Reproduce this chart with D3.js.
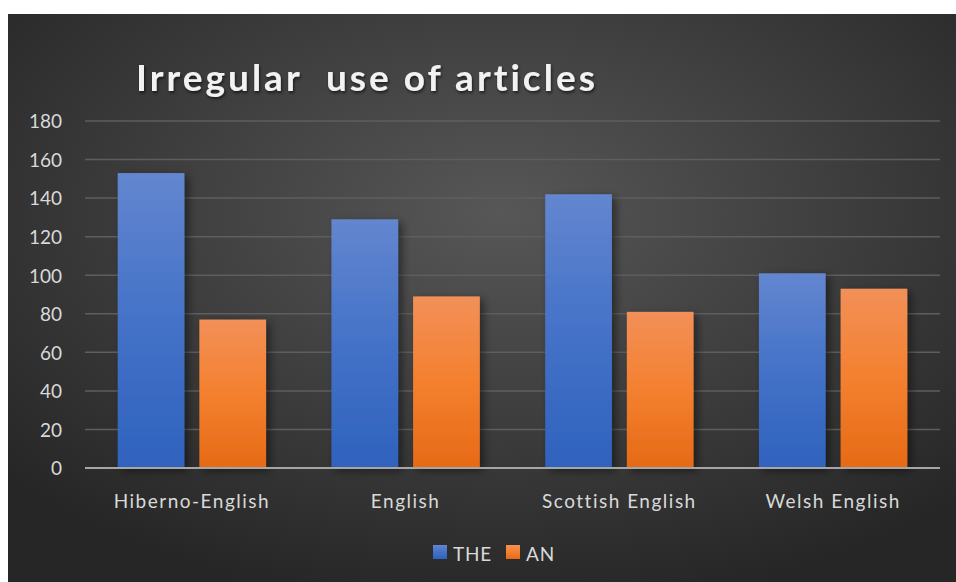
<!DOCTYPE html>
<html>
<head>
<meta charset="utf-8">
<script src="https://cdn.jsdelivr.net/npm/d3@7"></script>
<style>
  html,body{margin:0;padding:0;background:#fff;}
  svg{display:block;}
  text{font-family:Lato,"Open Sans",sans-serif;}
</style>
</head>
<body>
<svg id="chart" width="956" height="582"></svg>
<script>
/* ── data ── */
var categories=['Hiberno-English','English','Scottish English','Welsh English'];
var seriesNames=['THE','AN'];
var theValues=[153,129,142,101];
var anValues=[77,89,81,93];
var yTicks=[0,20,40,60,80,100,120,140,160,180];

var W=956, H=582;
var PX=8, PY=14;               // white border round the chart panel
var ML=85, MR=16, MT=121, MB=114;
var svg=d3.select('#chart');
var defs=svg.append('defs');

/* background radial gradient */
var bg=defs.append('radialGradient').attr('id','bgGrad')
  .attr('cx','52%').attr('cy','35%').attr('r','70%');
bg.append('stop').attr('offset','0%').attr('stop-color','#575757');
bg.append('stop').attr('offset','100%').attr('stop-color','#262626');

function barGrad(id,top,mid,bot){
  var g=defs.append('linearGradient').attr('id',id)
    .attr('x1',0).attr('x2',0).attr('y1',0).attr('y2',1);
  g.append('stop').attr('offset','0%').attr('stop-color',top);
  g.append('stop').attr('offset','50%').attr('stop-color',mid);
  g.append('stop').attr('offset','100%').attr('stop-color',bot);
}
barGrad('gTHE','#6386cf','#4472c8','#2f62bd');
barGrad('gAN','#f29058','#f4802f','#e66a16');

var sh=defs.append('filter').attr('id','shadow')
  .attr('x','-20%').attr('y','-10%').attr('width','150%').attr('height','130%');
sh.append('feDropShadow').attr('dx',4).attr('dy',3).attr('stdDeviation',4)
  .attr('flood-color','#000').attr('flood-opacity',0.45);

var tsh=defs.append('filter').attr('id','tshadow');
tsh.append('feDropShadow').attr('dx',1).attr('dy',2).attr('stdDeviation',1.5)
  .attr('flood-color','#000').attr('flood-opacity',0.6);

svg.append('rect').attr('x',PX).attr('y',PY).attr('width',W-PX).attr('height',H-PY)
  .attr('fill','url(#bgGrad)');

/* ── scales ── */
var x0=d3.scaleBand().domain(categories).range([ML,W-MR]).paddingInner(0).paddingOuter(0);
var y=d3.scaleLinear().domain([0,180]).range([H-MB,MT]);
var bw=x0.bandwidth();
var barW=bw*0.312, gapIn=bw*0.07;

/* gridlines */
svg.append('g').selectAll('line').data(yTicks.filter(function(t){return t>0;})).enter()
  .append('line').attr('x1',ML).attr('x2',W-MR)
  .attr('y1',function(d){return y(d);}).attr('y2',function(d){return y(d);})
  .attr('stroke','#5e5e5e').attr('stroke-width',1.5);

/* y axis labels */
var yAxis=d3.axisLeft(y).tickValues(yTicks).tickSize(0).tickPadding(0);
var ya=svg.append('g').attr('transform','translate(62,0)').call(yAxis);
ya.select('.domain').remove();
ya.selectAll('text').attr('fill','#d9d9d9').attr('font-size',19).attr('dy','0.36em')
  .style('font-family','Lato,"Open Sans",sans-serif');

/* bars */
var rows=categories.map(function(c,i){return {cat:c,v:[theValues[i],anValues[i]]};});
var grp=svg.append('g').selectAll('g').data(rows).enter().append('g');
var startOff=(bw-(2*barW+gapIn))/2;
grp.selectAll('rect').data(function(d){
    return d.v.map(function(v,j){return {cat:d.cat,v:v,j:j};});
  }).enter().append('rect')
  .attr('x',function(d){return x0(d.cat)+startOff+d.j*(barW+gapIn);})
  .attr('y',function(d){return y(d.v);})
  .attr('width',barW)
  .attr('height',function(d){return y(0)-y(d.v);})
  .attr('fill',function(d){return d.j===0?'url(#gTHE)':'url(#gAN)';})
  .attr('filter','url(#shadow)');

/* x axis line */
svg.append('line').attr('x1',ML).attr('x2',W-MR).attr('y1',y(0)).attr('y2',y(0))
  .attr('stroke','#a6a6a6').attr('stroke-width',2);

/* category labels */
var xAxis=d3.axisBottom(x0).tickSize(0).tickPadding(0);
var xa=svg.append('g').attr('transform','translate(0,'+(y(0)+40)+')').call(xAxis);
xa.select('.domain').remove();
xa.selectAll('text').attr('fill','#d9d9d9').attr('font-size',19).attr('dy',0)
  .attr('letter-spacing','1.5px')
  .style('font-family','Lato,"Open Sans",sans-serif');

/* title */
svg.append('text').attr('x',136).attr('y',91)
  .attr('fill','#f2f2f2').attr('font-size',37).attr('font-weight','bold')
  .attr('letter-spacing','3px').attr('filter','url(#tshadow)')
  .attr('xml:space','preserve').style('white-space','pre')
  .text('Irregular  use of articles');

/* legend */
var legX=[433,506];
var lg=svg.append('g').selectAll('g').data(seriesNames).enter().append('g')
  .attr('transform',function(d,i){return 'translate('+legX[i]+',545)';});
lg.append('rect').attr('width',14).attr('height',14)
  .attr('fill',function(d,i){return i===0?'url(#gTHE)':'url(#gAN)';});
lg.append('text').attr('x',20).attr('y',16).attr('fill','#d9d9d9').attr('font-size',19)
  .attr('letter-spacing','0.8px').text(function(d){return d;});
</script>
</body>
</html>
